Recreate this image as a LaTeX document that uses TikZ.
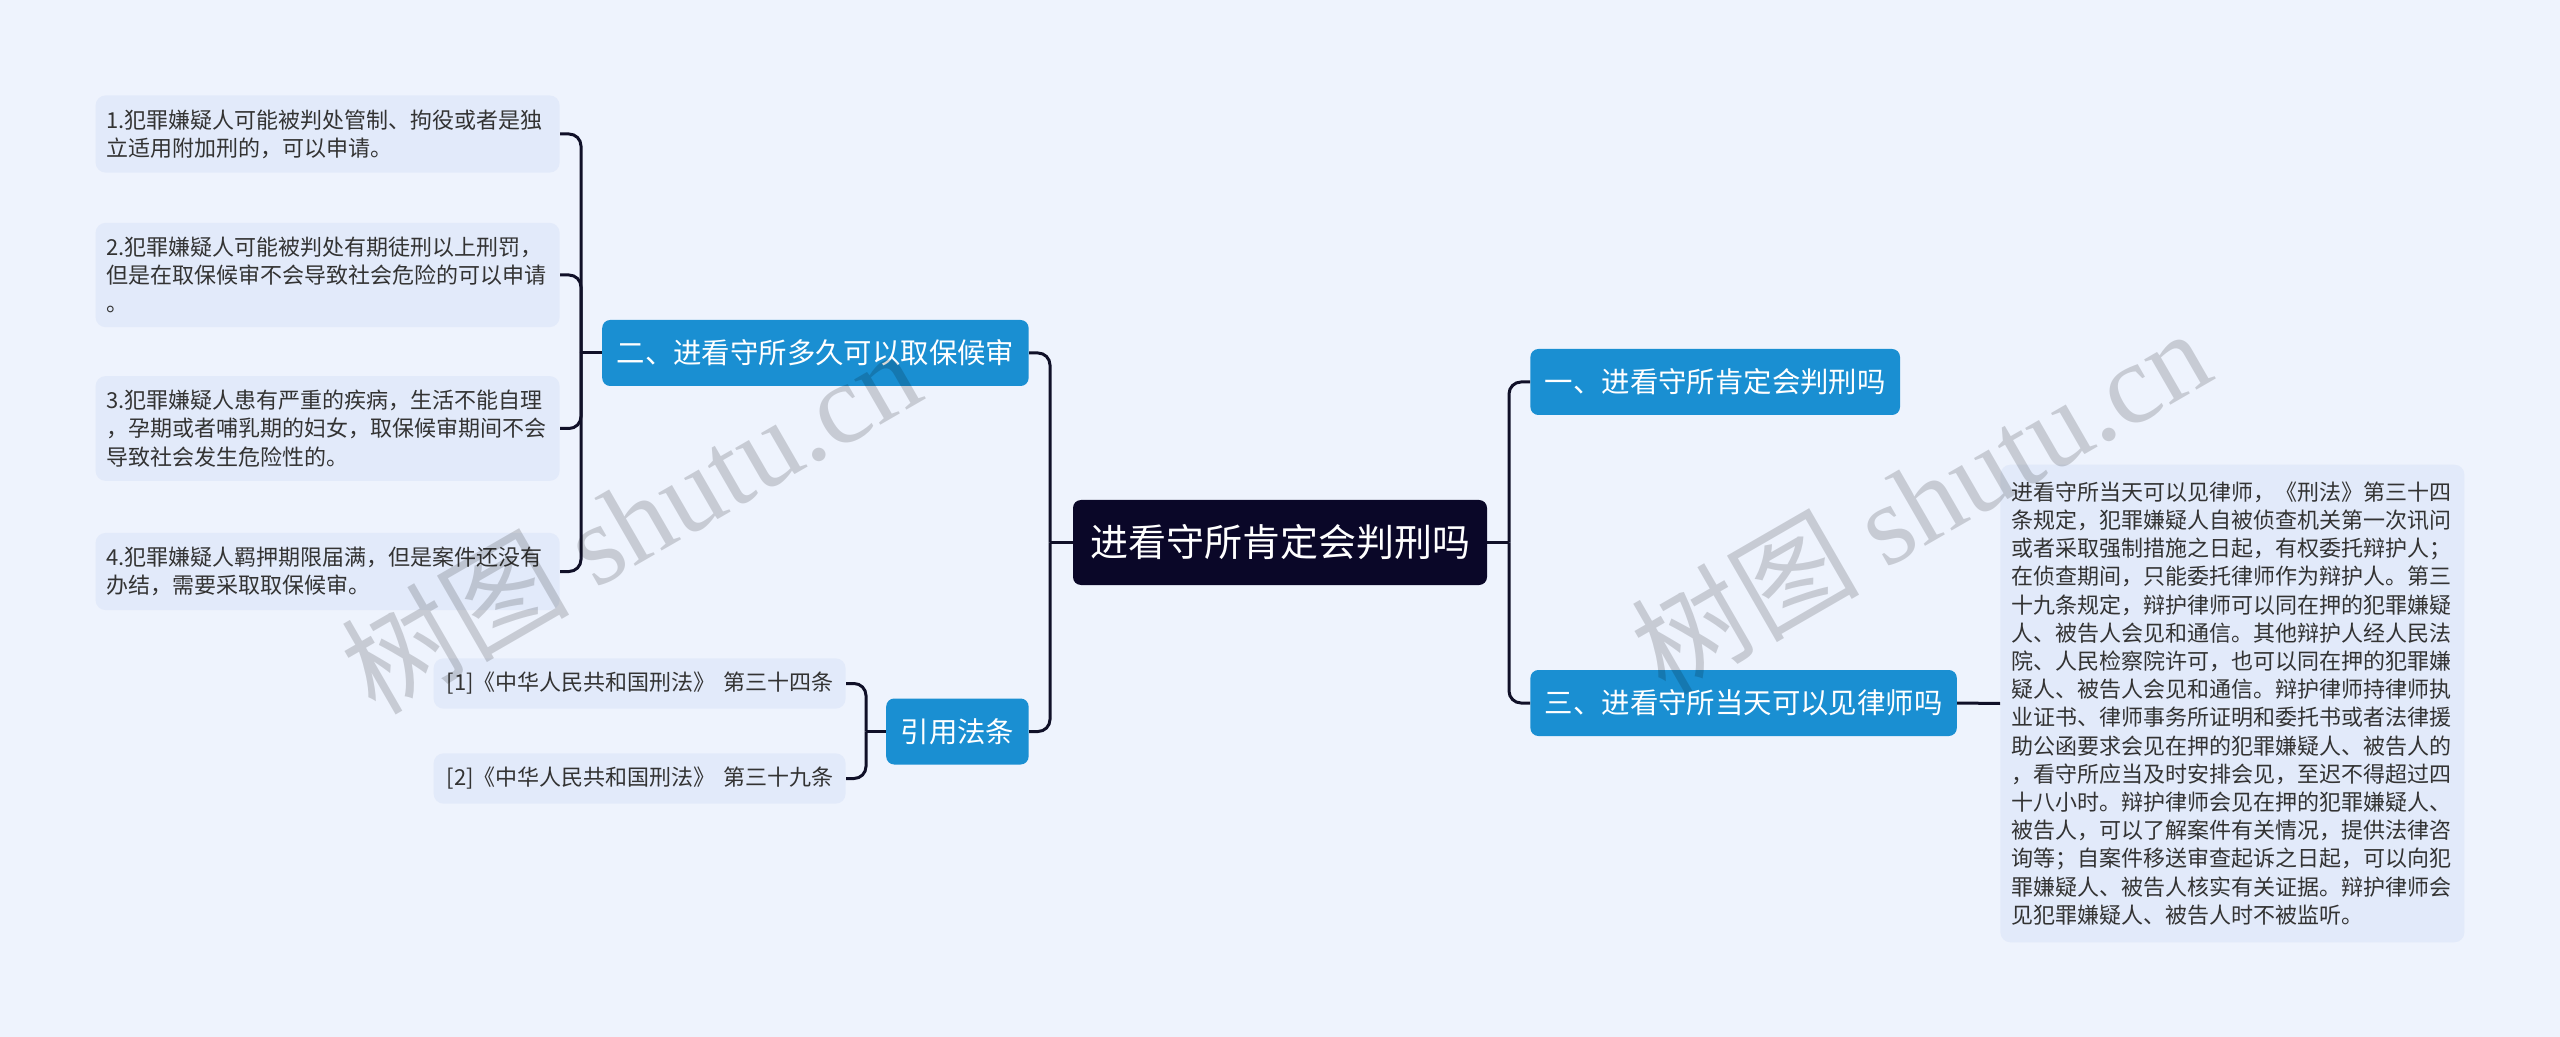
\documentclass[tikz,border=0pt]{standalone}
\usepackage{fontspec}
\setmainfont{Noto Sans CJK SC}
\newfontfamily\wmserif{Liberation Serif}
\usepackage{tikz}
\usetikzlibrary{calc}
\usepackage{xcolor}
\definecolor{bgpale}{HTML}{EEF3FD}
\definecolor{leaffill}{HTML}{E2EAFA}
\definecolor{azure}{HTML}{1A8FD2}
\definecolor{inkblue}{HTML}{0A0728}
\definecolor{wire}{HTML}{101028}
\definecolor{textgray}{HTML}{333333}

\begin{document}
\begin{tikzpicture}[
  x=0.5pt, y=-0.5pt,
  font=\fontsize{11}{14.1}\selectfont,
  leaf/.style={fill=leaffill, text=textgray, rounded corners=5pt, align=left, text width=221pt, inner xsep=5.5pt, inner ysep=7pt},
  citeb/.style={leaf, text width=193pt, inner xsep=6.5pt, minimum height=24.5pt},
  branch/.style={fill=azure, text=white, rounded corners=4pt, font=\fontsize{14.2}{17}\selectfont, inner xsep=7.2pt, minimum height=33pt},
  rootb/.style={fill=inkblue, text=white, rounded corners=4pt, font=\fontsize{19}{23}\selectfont, inner xsep=8.5pt, minimum height=42.5pt},
  link/.style={draw=wire, line width=1.5pt, rounded corners=6pt},
  watermark/.style={text=black, text opacity=0.16, font=\fontsize{57}{60}\selectfont, rotate=30}
]

\fill[bgpale] (0,0) rectangle (2560,1037);

\node[rootb] (root) at (1280,542.5) {进看守所肯定会判刑吗};

% right side
\node[branch, anchor=west] (b1) at (1530,382) {一、进看守所肯定会判刑吗};
\node[branch, anchor=west] (b3) at (1530,703) {三、进看守所当天可以见律师吗};
\node[leaf, anchor=west, inner ysep=8.5pt] (detail) at (2000,703.5) {进看守所当天可以见律师，《刑法》第三十四\\
条规定，犯罪嫌疑人自被侦查机关第一次讯问\\
或者采取强制措施之日起，有权委托辩护人；\\
在侦查期间，只能委托律师作为辩护人。第三\\
十九条规定，辩护律师可以同在押的犯罪嫌疑\\
人、被告人会见和通信。其他辩护人经人民法\\
院、人民检察院许可，也可以同在押的犯罪嫌\\
疑人、被告人会见和通信。辩护律师持律师执\\
业证书、律师事务所证明和委托书或者法律援\\
助公函要求会见在押的犯罪嫌疑人、被告人的\\
，看守所应当及时安排会见，至迟不得超过四\\
十八小时。辩护律师会见在押的犯罪嫌疑人、\\
被告人，可以了解案件有关情况，提供法律咨\\
询等；自案件移送审查起诉之日起，可以向犯\\
罪嫌疑人、被告人核实有关证据。辩护律师会\\
见犯罪嫌疑人、被告人时不被监听。};

\coordinate (jr) at (1509,542.5);
\draw[link] (root.east) -- (jr);
\draw[link] (jr) |- (b1.west);
\draw[link] (jr) |- (b3.west);
\draw[link] (b3.east) -- (detail.west);

% left side
\node[branch, anchor=east] (b2) at (1029,353) {二、进看守所多久可以取保候审};
\node[branch, anchor=east] (cite) at (1029,731.5) {引用法条};

\node[leaf, anchor=east] (l1) at (560,134) {1.犯罪嫌疑人可能被判处管制、拘役或者是独\\立适用附加刑的，可以申请。};
\node[leaf, anchor=east] (l2) at (560,275) {2.犯罪嫌疑人可能被判处有期徒刑以上刑罚，\\但是在取保候审不会导致社会危险的可以申请\\。};
\node[leaf, anchor=east] (l3) at (560,428.5) {3.犯罪嫌疑人患有严重的疾病，生活不能自理\\，孕期或者哺乳期的妇女，取保候审期间不会\\导致社会发生危险性的。};
\node[leaf, anchor=east] (l4) at (560,571.5) {4.犯罪嫌疑人羁押期限届满，但是案件还没有\\办结，需要采取取保候审。};

\node[citeb, anchor=east] (c1) at (846,683.5) {[1]《中华人民共和国刑法》~第三十四条};
\node[citeb, anchor=east] (c2) at (846,778.5) {[2]《中华人民共和国刑法》~第三十九条};

\coordinate (jl) at (1050,542.5);
\coordinate (j2) at (581,353);
\coordinate (jc) at (866,731.5);
\draw[link] (root.west) -- (jl);
\draw[link] (jl) |- (b2.east);
\draw[link] (jl) |- (cite.east);
\draw[link] (b2.west) -- (j2);
\foreach \n in {l1,l2,l3,l4}
  \draw[link] (j2) |- (\n.east);
\draw[link] (cite.west) -- (jc);
\draw[link] (jc) |- (c1.east);
\draw[link] (jc) |- (c2.east);

% watermarks
\node[watermark] (wm1) at (630,520) {树图 {\wmserif shutu.cn}};
\node[watermark] (wm2) at (1920,500) {树图 {\wmserif shutu.cn}};

\end{tikzpicture}
\end{document}
